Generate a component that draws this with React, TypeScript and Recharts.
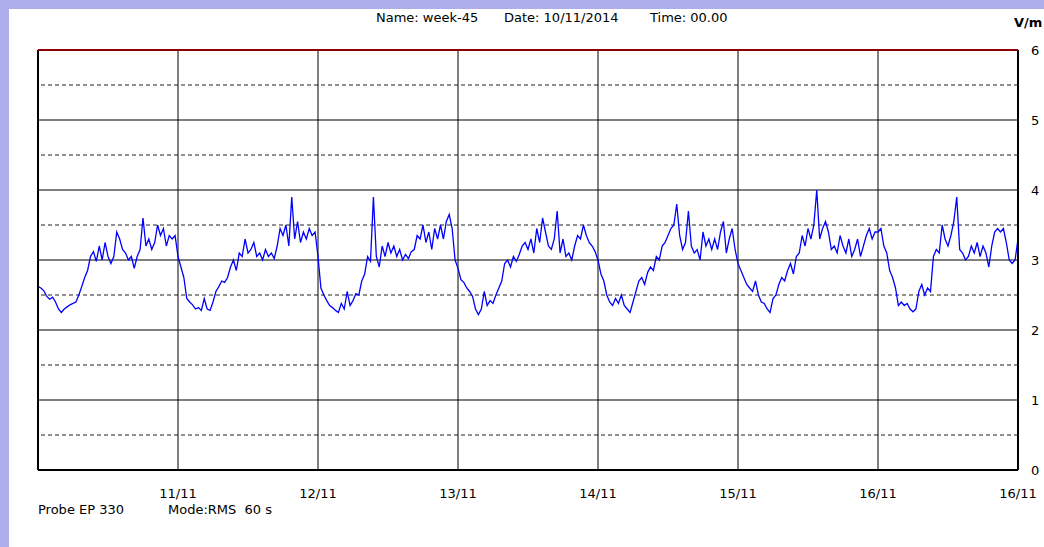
import { LineChart, Line, XAxis, YAxis, ReferenceLine } from 'recharts'

// field strength (V/m), one reading every 30 min, 10/11 00:00 -> 17/11 00:00
const day10 = [2.62, 2.6, 2.56, 2.48, 2.44, 2.47, 2.4, 2.3, 2.25, 2.3, 2.33, 2.36, 2.38, 2.4, 2.5, 2.62, 2.75, 2.85, 3.05, 3.12, 2.98, 3.2, 3.0, 3.25, 3.05, 2.95, 3.05, 3.4, 3.3, 3.15, 3.1, 3.0, 3.05, 2.88, 3.05, 3.15, 3.6, 3.2, 3.3, 3.15, 3.25, 3.5, 3.35, 3.45, 3.2, 3.35, 3.3, 3.35]
const day11 = [3.05, 2.9, 2.75, 2.45, 2.4, 2.36, 2.3, 2.32, 2.28, 2.45, 2.3, 2.28, 2.4, 2.55, 2.62, 2.7, 2.68, 2.75, 2.9, 3.0, 2.85, 3.1, 3.05, 3.3, 3.1, 3.15, 3.25, 3.05, 3.1, 3.0, 3.15, 3.05, 3.1, 3.02, 3.2, 3.45, 3.35, 3.5, 3.2, 3.9, 3.3, 3.55, 3.25, 3.4, 3.3, 3.45, 3.35, 3.4]
const day12 = [3.05, 2.6, 2.5, 2.42, 2.35, 2.32, 2.28, 2.25, 2.38, 2.3, 2.55, 2.35, 2.42, 2.52, 2.5, 2.7, 2.8, 3.05, 2.98, 3.9, 3.05, 2.9, 3.2, 3.05, 3.25, 3.1, 3.2, 3.05, 3.15, 3.0, 3.08, 3.02, 3.12, 3.15, 3.35, 3.3, 3.5, 3.25, 3.4, 3.15, 3.45, 3.3, 3.5, 3.3, 3.55, 3.65, 3.45, 3.0]
const day13 = [2.88, 2.72, 2.68, 2.6, 2.55, 2.48, 2.3, 2.22, 2.3, 2.55, 2.35, 2.42, 2.38, 2.5, 2.6, 2.7, 2.95, 3.0, 2.9, 3.05, 2.98, 3.08, 3.2, 3.25, 3.15, 3.3, 3.1, 3.45, 3.25, 3.6, 3.4, 3.2, 3.15, 3.3, 3.7, 3.1, 3.3, 3.05, 3.1, 3.0, 3.2, 3.35, 3.3, 3.5, 3.35, 3.25, 3.2, 3.12]
const day14 = [3.0, 2.8, 2.7, 2.5, 2.4, 2.35, 2.45, 2.38, 2.5, 2.35, 2.3, 2.25, 2.4, 2.55, 2.7, 2.75, 2.65, 2.82, 2.9, 2.85, 3.05, 3.0, 3.2, 3.25, 3.35, 3.45, 3.5, 3.8, 3.35, 3.15, 3.25, 3.7, 3.2, 3.1, 3.15, 3.0, 3.4, 3.2, 3.3, 3.15, 3.3, 3.15, 3.4, 3.55, 3.1, 3.3, 3.45, 3.15]
const day15 = [2.95, 2.85, 2.75, 2.65, 2.6, 2.55, 2.7, 2.5, 2.4, 2.38, 2.3, 2.25, 2.45, 2.5, 2.65, 2.75, 2.7, 2.85, 2.95, 2.8, 3.05, 3.1, 3.35, 3.2, 3.45, 3.3, 3.5, 4.0, 3.3, 3.45, 3.55, 3.4, 3.15, 3.2, 3.1, 3.35, 3.2, 3.1, 3.3, 3.05, 3.15, 3.3, 3.05, 3.2, 3.35, 3.45, 3.3, 3.4]
const day16 = [3.4, 3.45, 3.2, 3.1, 2.85, 2.75, 2.6, 2.35, 2.4, 2.35, 2.38, 2.3, 2.26, 2.3, 2.55, 2.65, 2.5, 2.6, 2.55, 3.05, 3.15, 3.1, 3.5, 3.3, 3.2, 3.35, 3.55, 3.9, 3.15, 3.1, 3.0, 3.05, 3.2, 3.1, 3.25, 3.05, 3.2, 3.1, 2.9, 3.2, 3.4, 3.45, 3.4, 3.45, 3.25, 3.0, 2.95, 3.0]
const lastReading = 3.3

const dayTicks = [48, 96, 144, 192, 240, 288, 336]
const dayLabels = ['11/11', '12/11', '13/11', '14/11', '15/11', '16/11', '16/11']
const yTicks = [0, 1, 2, 3, 4, 5, 6]
const halfLines = [0.5, 1.5, 2.5, 3.5, 4.5, 5.5]
const wholeLines = [1, 2, 3, 4, 5]

const readings = [...day10, ...day11, ...day12, ...day13, ...day14, ...day15, ...day16, lastReading]
const chartData = readings.map((v, i) => ({ t: i, v }))

const font = '"DejaVu Sans", sans-serif'
const lavender = '#adadeb'

const textStyle: React.CSSProperties = {
  position: 'absolute',
  fontFamily: font,
  fontSize: 13,
  color: '#000',
  whiteSpace: 'pre',
  lineHeight: '16px',
}

export default function App() {
  return (
    <div style={{ position: 'absolute', left: 0, top: 0, width: 1044, height: 547, background: '#fff', overflow: 'hidden' }}>
      <div style={{ position: 'absolute', left: 0, top: 0, width: 1044, height: 9, background: lavender }} />
      <div style={{ position: 'absolute', left: 0, top: 0, width: 9, height: 547, background: lavender }} />

      <div style={{ ...textStyle, left: 376, top: 10 }}>Name: week-45</div>
      <div style={{ ...textStyle, left: 504, top: 10 }}>Date: 10/11/2014</div>
      <div style={{ ...textStyle, left: 650, top: 10 }}>Time: 00.00</div>
      <div style={{ ...textStyle, left: 1014, top: 15, fontWeight: 'bold' }}>V/m</div>
      <div style={{ ...textStyle, left: 38, top: 502 }}>Probe EP 330</div>
      <div style={{ ...textStyle, left: 168, top: 502 }}>Mode:RMS  60 s</div>

      <div style={{ position: 'absolute', left: 0, top: 0 }}>
        <LineChart width={1044} height={547} data={chartData} margin={{ top: 50, right: 0, bottom: 47, left: 38 }}>
          <XAxis
            dataKey="t"
            type="number"
            domain={[0, 336]}
            ticks={dayTicks}
            tickFormatter={(v) => dayLabels[dayTicks.indexOf(v)] ?? ''}
            axisLine={false}
            tickLine={false}
            tickMargin={13}
            height={30}
            interval={0}
            tick={{ fontFamily: font, fontSize: 13, fill: '#000' }}
          />
          <YAxis
            orientation="right"
            domain={[0, 6]}
            ticks={yTicks}
            axisLine={false}
            tickLine={false}
            tickMargin={7}
            width={26}
            interval={0}
            tick={{ fontFamily: font, fontSize: 13, fill: '#000', textAnchor: 'start' }}
          />
          {halfLines.map((y) => (
            <ReferenceLine key={'h' + y} y={y} stroke="#222" strokeDasharray="4 3" />
          ))}
          {wholeLines.map((y) => (
            <ReferenceLine key={'w' + y} y={y} stroke="#000" />
          ))}
          {dayTicks.slice(0, 6).map((x) => (
            <ReferenceLine key={'d' + x} x={x} stroke="#000" />
          ))}
          <Line
            type="linear"
            dataKey="v"
            stroke="#0000ff"
            strokeWidth={1.3}
            dot={false}
            isAnimationActive={false}
          />
          <ReferenceLine x={0} stroke="#000" strokeWidth={2} />
          <ReferenceLine x={336} stroke="#000" strokeWidth={2} />
          <ReferenceLine y={0} stroke="#000" strokeWidth={2} />
          <ReferenceLine y={6} stroke="#8b0000" strokeWidth={2} />
        </LineChart>
      </div>
    </div>
  )
}
